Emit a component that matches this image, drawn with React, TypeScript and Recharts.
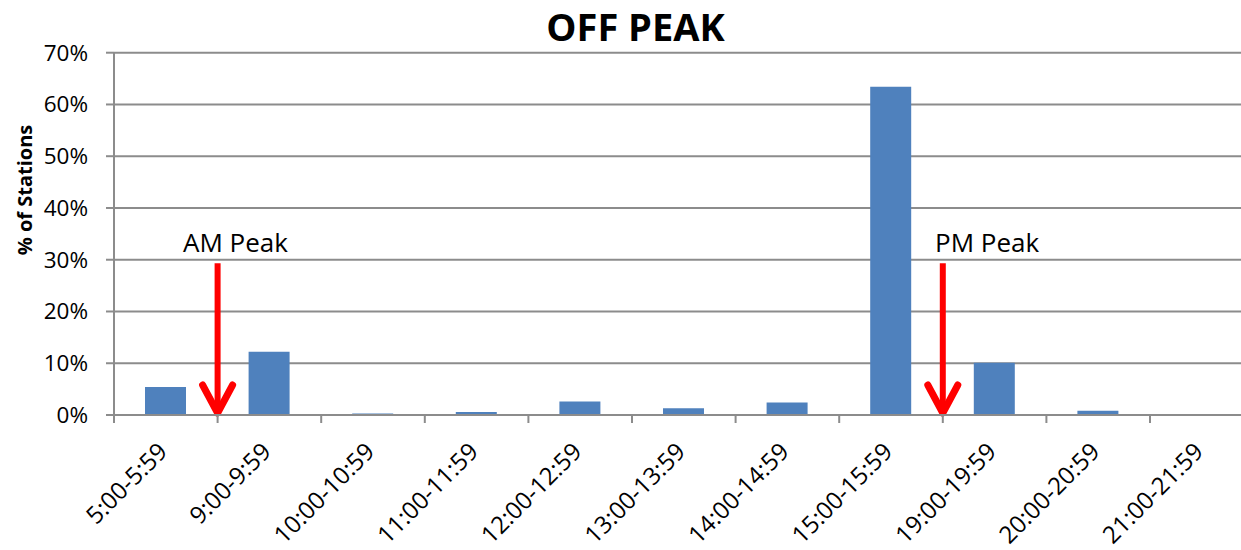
import React from 'react';
import { BarChart, Bar, XAxis, YAxis, CartesianGrid, ReferenceLine } from 'recharts';

// Share of stations by hour window (off-peak survey)
const timeSlots = [
  '5:00-5:59',
  '9:00-9:59',
  '10:00-10:59',
  '11:00-11:59',
  '12:00-12:59',
  '13:00-13:59',
  '14:00-14:59',
  '15:00-15:59',
  '19:00-19:59',
  '20:00-20:59',
  '21:00-21:59',
];
const stationShare = [0.054, 0.122, 0.003, 0.006, 0.026, 0.013, 0.024, 0.634, 0.101, 0.008, 0.0];
const yTicks = [0, 0.1, 0.2, 0.3, 0.4, 0.5, 0.6, 0.7];

// Peak markers: label, the slot whose left edge the arrow sits on, arrow top value
const peakLabels = ['AM Peak', 'PM Peak'];
const peakSlots = ['9:00-9:59', '19:00-19:59'];
const peakArrowTop = [0.293, 0.293];

// Horizontal shift of each marker's caption relative to its arrow
const captionShift = [-34.6, -7.7];

const data = timeSlots.map((slot, i) => ({ slot, share: stationShare[i] }));

const FONT = '"Open Sans", "Liberation Sans", sans-serif';
const GRID = '#8c8c8c';
const BAR = '#4F81BD';
const ARROW = '#FF0000';

function SlotTick(props: any) {
  const { x, y, payload } = props;
  const edge = x - (payload.offset ?? 0);
  const tx = x + 3;
  const ty = y + 30;
  return (
    <g>
      <line x1={edge} y1={y - 8} x2={edge} y2={y} stroke={GRID} strokeWidth={2} />
      <text
        x={tx}
        y={ty}
        transform={`rotate(-45 ${tx} ${ty})`}
        textAnchor="end"
        fontFamily={FONT}
        fontSize={24}
        fill="#000"
      >
        {payload.value}
      </text>
    </g>
  );
}

function PeakArrow(props: any) {
  const { x1, y1, y2, caption, shift } = props;
  const x = x1;
  return (
    <g>
      <text x={x + shift} y={y1 - 11} fontFamily={FONT} fontSize={26} fill="#000">
        {caption}
      </text>
      <line x1={x} y1={y1} x2={x} y2={y2 - 6} stroke={ARROW} strokeWidth={6} />
      <polyline
        points={`${x - 15},${y2 - 30} ${x},${y2 - 2} ${x + 15},${y2 - 30}`}
        fill="none"
        stroke={ARROW}
        strokeWidth={7}
        strokeLinecap="round"
        strokeLinejoin="round"
      />
    </g>
  );
}

export default function App() {
  return (
    <div
      style={{
        position: 'absolute',
        left: 0,
        top: 0,
        width: 1241,
        height: 550,
        overflow: 'hidden',
        background: '#fff',
      }}
    >
      <svg
        width={1241}
        height={52}
        style={{ position: 'absolute', left: 0, top: 0, zIndex: 2 }}
      >
        <text
          x={635.5}
          y={41}
          textAnchor="middle"
          fontFamily={FONT}
          fontWeight={700}
          fontSize={38}
          fill="#000"
        >
          OFF PEAK
        </text>
      </svg>
      <BarChart
        width={1262}
        height={550}
        data={data}
        margin={{ top: 52.7, right: 8.4, left: 34, bottom: 5 }}
      >
        <CartesianGrid vertical={false} stroke={GRID} strokeWidth={2} />
        <XAxis
          dataKey="slot"
          interval={0}
          height={130}
          axisLine={{ stroke: GRID, strokeWidth: 2 }}
          tickLine={false}
          tickSize={8}
          tickMargin={0}
          tick={<SlotTick />}
        />
        <YAxis
          width={80}
          domain={[0, 0.7]}
          ticks={yTicks}
          interval={0}
          tickFormatter={(v: number) => `${Math.round(v * 100)}%`}
          axisLine={{ stroke: GRID, strokeWidth: 2 }}
          tickLine={{ stroke: GRID, strokeWidth: 2 }}
          tickSize={8}
          tickMargin={18}
          tick={{ fontFamily: FONT, fontSize: 22.5, fill: '#000' }}
          label={{
            content: () => (
              <text
                x={32}
                y={190}
                transform="rotate(-90 32 190)"
                textAnchor="middle"
                fontFamily={FONT}
                fontWeight={700}
                fontSize={20}
                fill="#000"
              >
                % of Stations
              </text>
            ),
          }}
        />
        <Bar dataKey="share" fill={BAR} barSize={41} isAnimationActive={false} />
        {peakLabels.map((caption, i) => (
          <ReferenceLine
            key={caption}
            position="start"
            segment={[
              { x: peakSlots[i], y: peakArrowTop[i] },
              { x: peakSlots[i], y: 0 },
            ]}
            shape={(p: any) => <PeakArrow {...p} caption={caption} shift={captionShift[i]} />}
          />
        ))}
      </BarChart>
    </div>
  );
}
